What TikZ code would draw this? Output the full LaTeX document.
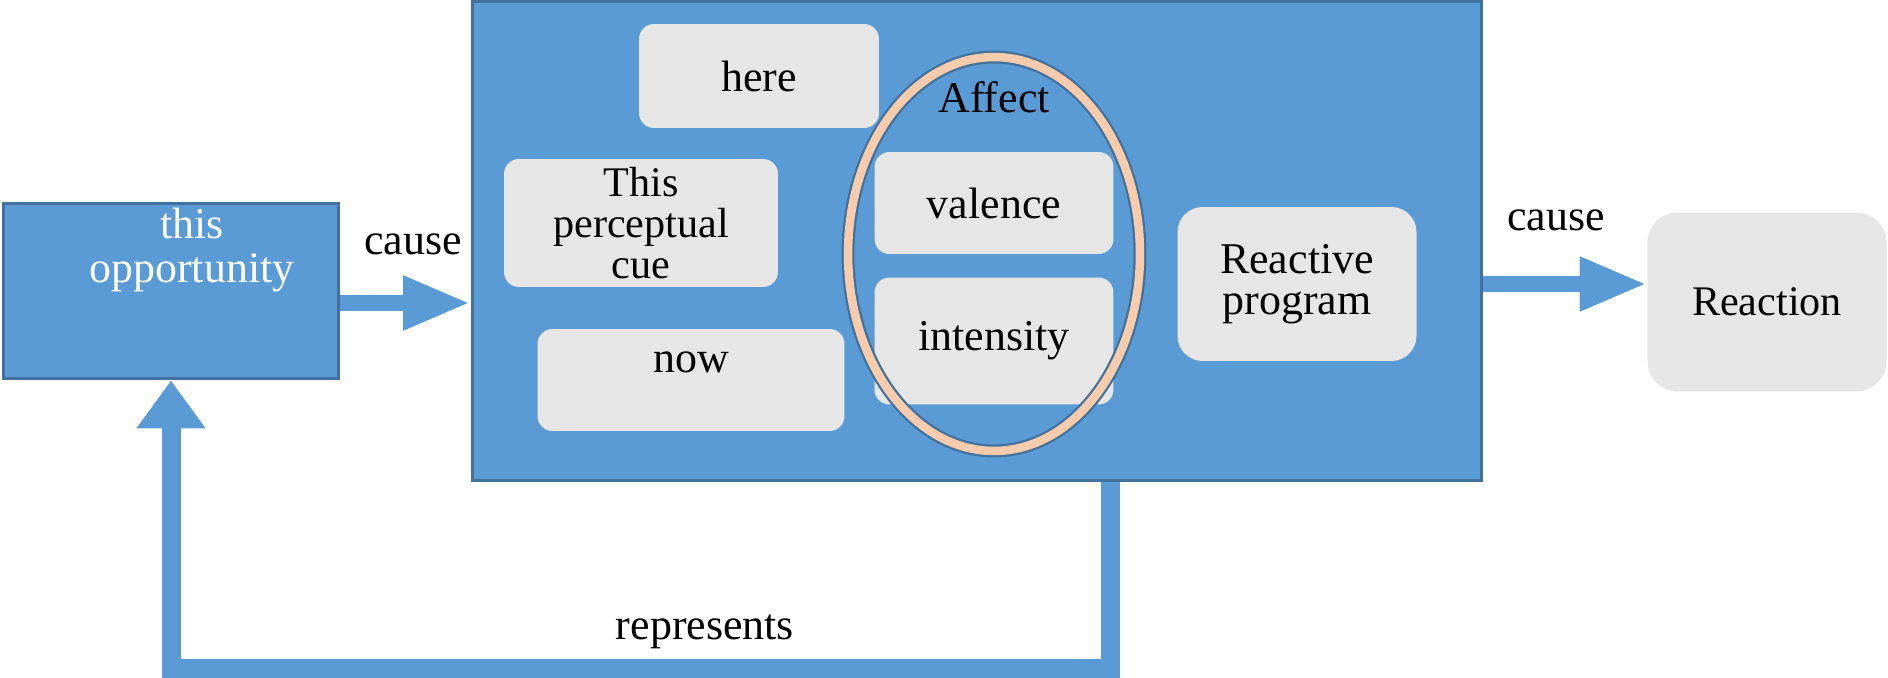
\documentclass[tikz,border=0pt]{standalone}
\usepackage{fontspec}
\setmainfont{Liberation Serif}
\usetikzlibrary{shapes,positioning,arrows.meta,calc}
\definecolor{boxblue}{HTML}{5B9BD5}
\definecolor{edgeblue}{HTML}{41719C}
\definecolor{cardgray}{HTML}{E6E6E6}
\definecolor{peach}{HTML}{F8CBAD}

\begin{document}
\begin{tikzpicture} [
					x=0.02cm,y=-0.02cm,
					every node/.style={font=\fontsize{25}{25}\selectfont},
					bluebox/.style={rectangle,draw=edgeblue,fill=boxblue,line width=0.06cm},
					card/.style={rectangle,rounded corners=0.3cm,fill=cardgray,inner sep=0,align=center},
					flow/.style={draw=boxblue,line width=0.33cm,-{Triangle[length=1.35cm,width=1cm]}},
		%			transform shape,
				]
				\useasboundingbox (0,0) rectangle (1888,678);
				
				\node[bluebox,minimum width=20.2cm,minimum height=9.6cm] (mind) at (977,241) {};
				\node[bluebox,minimum width=6.72cm,minimum height=3.52cm] (opp) at (171,291) {};
				\node[text=white,align=center] (opplbl) at (192,250) {this\\opportunity};
				
				\node[card,minimum width=4.8cm,minimum height=2.08cm] (here) at (759,76) {here};
				\node[card,minimum width=5.48cm,minimum height=2.56cm,font=\fontsize{24}{23.5}\selectfont] (cue) at (641,223) {This\\perceptual\\cue};
				\node[card,minimum width=6.14cm,minimum height=2.04cm,text height=0.6cm,text depth=0.92cm] (now) at (691,380) {now};
				
				\node[card,minimum width=4.78cm,minimum height=2.04cm] (valence) at (994,203) {valence};
				\node[card,minimum width=4.78cm,minimum height=2.54cm] (intensity) at (994,341) {intensity};
				\node[ellipse,draw=edgeblue,double=peach,line width=0.045cm,double distance=0.17cm,
					minimum width=5.84cm,minimum height=7.88cm,inner sep=0] (affect) at (994,254) {};
				\node (affectlbl) at (994,97) {Affect};
				
				\node[card,rounded corners=0.5cm,minimum width=4.78cm,minimum height=3.08cm,font=\fontsize{25}{23.5}\selectfont] (rp) at (1297,284) {Reactive\\program};
				\node[card,rounded corners=0.6cm,minimum width=4.78cm,minimum height=3.58cm,font=\fontsize{24}{24}\selectfont] (reaction) at (1767,302) {Reaction};
				
				\node (cause1) at (413,244) {cause};
				\node (cause2) at (1556,220) {cause};
				\node (repr) at (705,632) {represents};
				
				\coordinate (c1) at ([yshift=-0.24cm]opp.east);
				\coordinate (fb) at (1110,668);
				\draw[flow] (c1) -- (c1 -| mind.west);
				\draw[flow] (mind.east |- rp) -- (reaction.west |- rp);
				\draw[flow,line width=0.38cm,line join=miter,-{Triangle[length=0.96cm,width=1.32cm]}]
					(mind.south -| fb) -- (fb) -- (fb -| opp.south) -- (opp.south);
				
			\end{tikzpicture}
\end{document}
